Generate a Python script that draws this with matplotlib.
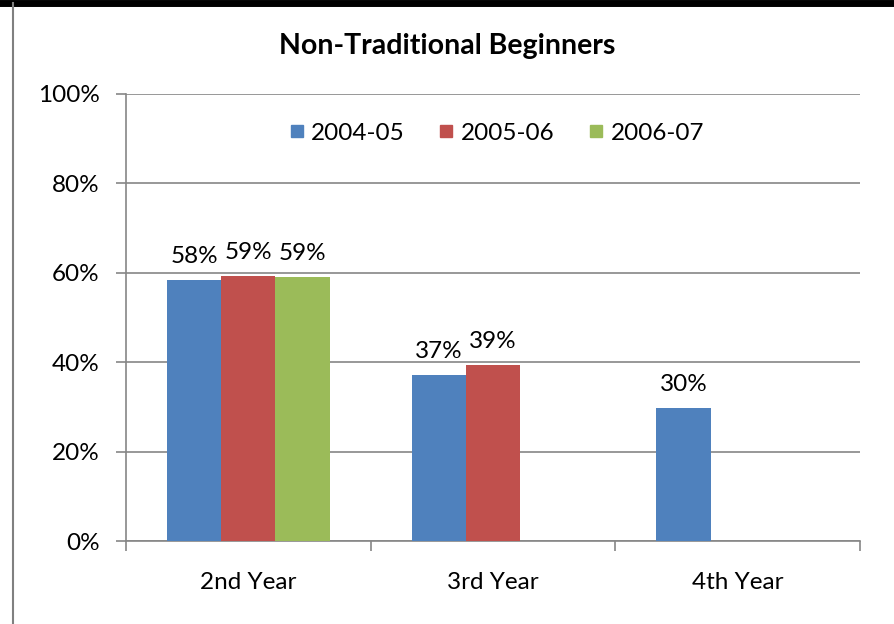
import numpy as np
import matplotlib
matplotlib.use("Agg")
import matplotlib.pyplot as plt
from matplotlib.lines import Line2D

plt.rcParams['font.family'] = ['Lato', 'DejaVu Sans']

categories = ['2nd Year', '3rd Year', '4th Year']
series = ['2004-05', '2005-06', '2006-07']
v0405 = [58.3, 37.1, 29.7]
v0506 = [59.2, 39.3, np.nan]
v0607 = [59.1, np.nan, np.nan]
labels0405 = ['58%', '37%', '30%']
labels0506 = ['59%', '39%', '']
labels0607 = ['59%', '', '']
colors = ['#4f81bd', '#c0504d', '#9bbb59']

fs = 17.5
fig = plt.figure(figsize=(8.94, 6.24), dpi=100)
ax = fig.add_axes([126 / 894, 1 - 541 / 624, (860 - 126) / 894, (541 - 94) / 624])

x = np.arange(len(categories))
w = 0.222
grid_c = '#868686'
for i, (vals, labs) in enumerate(zip([v0405, v0506, v0607],
                                      [labels0405, labels0506, labels0607])):
    pos = x + (i - 1) * w
    bars = ax.bar(pos, vals, width=w, color=colors[i], label=series[i], zorder=3)
    for b, v, lab in zip(bars, vals, labs):
        if lab and not np.isnan(v):
            ax.text(b.get_x() + b.get_width() / 2, v + 2.9, lab,
                    ha='center', va='bottom', fontsize=fs)

ax.set_xlim(-0.5, 2.5)
ax.set_ylim(0, 100)
ax.set_yticks(range(0, 101, 20))
ax.set_yticklabels([f'{t}%' for t in range(0, 101, 20)], fontsize=fs)
ax.yaxis.grid(True, color=grid_c, linewidth=1.2, zorder=0)
ax.set_xticks([-0.5, 0.5, 1.5, 2.5])
ax.set_xticklabels([])
ax.set_xticks(x, minor=True)
ax.set_xticklabels(categories, minor=True, fontsize=fs)
ax.tick_params(axis='x', which='minor', length=0, pad=22)
ax.tick_params(axis='x', which='major', length=7, color=grid_c, width=1.2)
ax.tick_params(axis='y', length=7, color=grid_c, width=1.2, pad=12)
for s in ['top', 'right']:
    ax.spines[s].set_visible(False)
for s in ['left', 'bottom']:
    ax.spines[s].set_color(grid_c)
    ax.spines[s].set_linewidth(1.2)

handles = [Line2D([], [], marker='s', linestyle='', markersize=9,
                  markerfacecolor=c, markeredgecolor=c) for c in colors]
ax.legend(handles, series, loc='upper center', bbox_to_anchor=(0.5, 0.985),
          ncol=3, frameon=False, fontsize=fs, handletextpad=0.0,
          columnspacing=1.1, handlelength=1.2)

fig.text(0.5, 1 - 46 / 624, 'Non-Traditional Beginners', ha='center',
         va='center', fontsize=20.5, fontweight='bold')

# outer frame of the chart
fig.add_artist(Line2D([0, 1], [1 - 3 / 624, 1 - 3 / 624], color='black',
                      linewidth=5, transform=fig.transFigure))
fig.add_artist(Line2D([12.5 / 894, 12.5 / 894], [0, 1 - 3 / 624], color='#808080',
                      linewidth=1.5, transform=fig.transFigure))

fig.savefig('out.png', dpi=100)
